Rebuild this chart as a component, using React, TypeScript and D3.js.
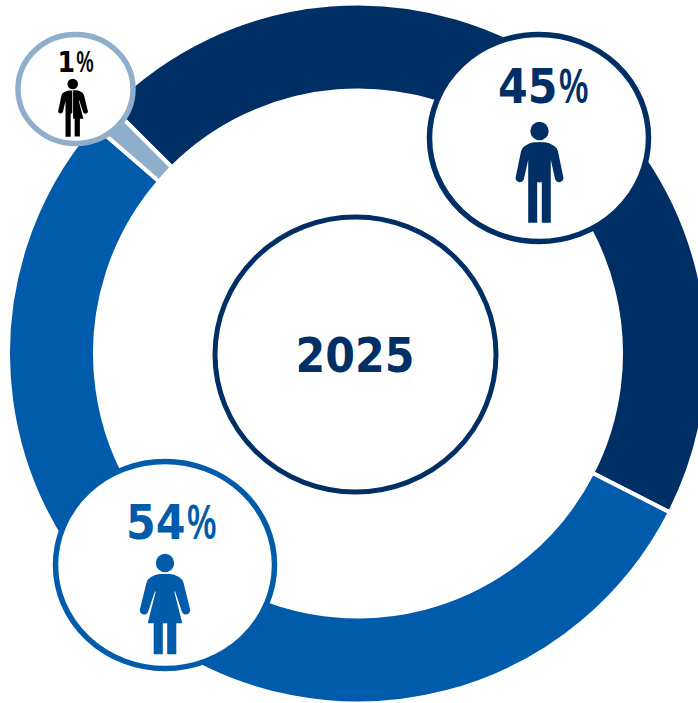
import React from 'react';
import * as d3 from 'd3';

// shares for 2025, labels are the rounded figures printed in the bubbles
const groups = ['Men', 'Women', 'Other'];
const shares = [45, 53.85, 1.15];
const labels = ['45', '54', '1'];
const colors = ['#002f65', '#005baa', '#8eaecb'];
const yearLabel = '2025';

const width = 698;
const height = 703;
const cx = 358;
const cy = 353.5;

const MAN_LEFT =
  'M-2.3,51.3 L-2.3,91.7 L-11.3,91.7 L-11.3,29 L-15.5,47.5 A4.2,4.2 0 0 1 -23.9,46.5 L-18.4,20 Q-17.5,16.5 -14,14.5 Q-9,11.3 -5,11.3 L0.5,11.3 L0.5,51.3 Z';
const WOMAN_RIGHT =
  'M-0.5,11 L5,11 Q9,11 14,14 Q17.5,16 18.6,20 L25,46 A4.2,4.2 0 0 1 16.8,48.5 L10,28 L9.4,29 L17.3,60.3 L11.3,60.3 L11.3,91.3 L2.2,91.3 L2.2,60.3 L-0.5,60.3 Z';

const mirror = (d: string) => <path d={d} transform="scale(-1,1)" />;

const Figure = ({ kind, x, y, k, fill }: { kind: string; x: number; y: number; k: number; fill: string }) => (
  <g transform={`translate(${x},${y}) scale(${k})`} fill={fill}>
    <circle cx={0} cy={0} r={9.2} />
    {kind === 'man' && (
      <>
        <path d={MAN_LEFT} />
        {mirror(MAN_LEFT)}
      </>
    )}
    {kind === 'woman' && (
      <>
        <path d={WOMAN_RIGHT} />
        {mirror(WOMAN_RIGHT)}
      </>
    )}
    {kind === 'both' && (
      <>
        <path d={MAN_LEFT} transform="translate(-1.2,0)" />
        <path d={WOMAN_RIGHT} transform="translate(1.2,0)" />
      </>
    )}
  </g>
);

// digits end at x, the % sign starts just after and is squeezed to its measured width
const Percent = ({ x, y, size, fill, text }: { x: number; y: number; size: number; fill: string; text: string }) => (
  <g fill={fill}>
    <text x={x} y={y} textAnchor="end" fontFamily="'DejaVu Sans Condensed', 'DejaVu Sans'" fontWeight={700} fontSize={size}>
      {text}
    </text>
    <text x={x + 1} y={y} fontFamily="'Open Sans'" fontWeight={600} fontSize={size} textLength={size * 0.64} lengthAdjust="spacingAndGlyphs">
      %
    </text>
  </g>
);

export default function App() {
  const pie = d3
    .pie<number>()
    .sort(null)
    .startAngle((-45 * Math.PI) / 180)
    .endAngle((315 * Math.PI) / 180);
  const arc = d3.arc<d3.PieArcDatum<number>>().innerRadius(263).outerRadius(350);
  const arcs = pie(shares);

  return (
    <svg width={width} height={height} style={{ position: 'absolute', left: 0, top: 0 }}>
      <g transform={`translate(${cx},${cy})`}>
        {arcs.map((d, i) => (
          <path key={groups[i]} d={arc(d) || ''} fill={colors[i]} stroke="#fff" strokeWidth={4} />
        ))}
      </g>

      <ellipse cx={355.5} cy={354.5} rx={140.5} ry={137.5} fill="#fff" stroke={colors[0]} strokeWidth={5} />
      <text x={355} y={371.5} textAnchor="middle" fill={colors[0]} fontFamily="'DejaVu Sans Condensed', 'DejaVu Sans'" fontWeight={700} fontSize={47.5}>
        {yearLabel}
      </text>

      <ellipse cx={539} cy={138} rx={109.5} ry={103.5} fill="#fff" stroke={colors[0]} strokeWidth={5.5} />
      <Percent x={557.5} y={103} size={47.5} fill={colors[0]} text={labels[0]} />
      <Figure kind="man" x={539.5} y={131} k={1} fill={colors[0]} />

      <ellipse cx={165} cy={565} rx={109.5} ry={103.5} fill="#fff" stroke={colors[1]} strokeWidth={5.5} />
      <Percent x={185.5} y={538.5} size={47.5} fill={colors[1]} text={labels[1]} />
      <Figure kind="woman" x={165} y={563} k={1} fill={colors[1]} />

      <ellipse cx={75.5} cy={89} rx={57.5} ry={54.5} fill="#fff" stroke={colors[2]} strokeWidth={5.5} />
      <Percent x={75} y={71.7} size={28} fill="#000" text={labels[2]} />
      <Figure kind="both" x={72.7} y={84} k={0.575} fill="#000" />
    </svg>
  );
}
